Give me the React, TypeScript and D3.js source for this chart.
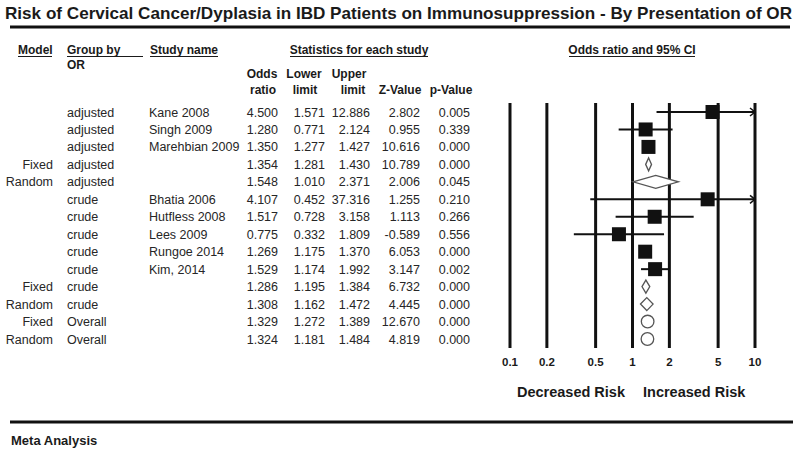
import React from "react";
import * as d3 from "d3";

const models = ["", "", "", "Fixed", "Random", "", "", "", "", "", "Fixed", "Random", "Fixed", "Random"];
const groups = ["adjusted", "adjusted", "adjusted", "adjusted", "adjusted", "crude", "crude", "crude", "crude", "crude", "crude", "crude", "Overall", "Overall"];
const studies = ["Kane 2008", "Singh 2009", "Marehbian 2009", "", "", "Bhatia 2006", "Hutfless 2008", "Lees 2009", "Rungoe 2014", "Kim, 2014", "", "", "", ""];
const oddsRatio = [4.5, 1.28, 1.35, 1.354, 1.548, 4.107, 1.517, 0.775, 1.269, 1.529, 1.286, 1.308, 1.329, 1.324];
const lowerLimit = [1.571, 0.771, 1.277, 1.281, 1.01, 0.452, 0.728, 0.332, 1.175, 1.174, 1.195, 1.162, 1.272, 1.181];
const upperLimit = [12.886, 2.124, 1.427, 1.43, 2.371, 37.316, 3.158, 1.809, 1.37, 1.992, 1.384, 1.472, 1.389, 1.484];
const zValues = [2.802, 0.955, 10.616, 10.789, 2.006, 1.255, 1.113, -0.589, 6.053, 3.147, 6.732, 4.445, 12.67, 4.819];
const pValues = [0.005, 0.339, 0.0, 0.0, 0.045, 0.21, 0.266, 0.556, 0.0, 0.002, 0.0, 0.0, 0.0, 0.0];
const ticks = [0.1, 0.2, 0.5, 1, 2, 5, 10];

const W = 800;
const H = 453;
const FONT = "'Liberation Sans', Arial, sans-serif";

export default function App() {
  const x = d3.scaleLog().domain([0.1, 10]).range([510, 755]);
  const y = d3.scalePoint<number>().domain(d3.range(models.length)).range([112, 339]);
  const f3 = d3.format(".3f");
  const fmt = (v: number) => f3(v).replace("\u2212", "-");
  const clampX = (v: number) => x(Math.max(0.1, Math.min(10, v)));
  const txt = "#1a1a1a";
  const rowTxt = "#262626";

  const numCols = [
    { vals: oddsRatio, right: 278 },
    { vals: lowerLimit, right: 325 },
    { vals: upperLimit, right: 370 },
    { vals: zValues, right: 420 },
    { vals: pValues, right: 470 },
  ];

  return (
    <svg width={W} height={H} style={{ position: "absolute", left: 0, top: 0, background: "#fff" }} fontFamily={FONT}>
      <rect width={W} height={H} fill="#fff" />
      {/* Title */}
      <text x={5} y={19} fontSize={16.5} fontWeight="bold" fill={txt} textLength={787} lengthAdjust="spacingAndGlyphs">
        Risk of Cervical Cancer/Dyplasia in IBD Patients on Immunosuppression - By Presentation of OR
      </text>
      <line x1={10} x2={790} y1={27} y2={27} stroke="#111" strokeWidth={3} />

      {/* Headers */}
      <g fontSize={12} fontWeight="bold" fill={txt}>
        <text x={18} y={54}>Model</text>
        <line x1={18} x2={52} y1={56.5} y2={56.5} stroke={txt} strokeWidth={1} />
        <text x={67} y={54}>Group by</text>
        <line x1={67} x2={143} y1={56.5} y2={56.5} stroke={txt} strokeWidth={1} />
        <text x={67} y={69}>OR</text>
        <text x={150} y={54}>Study name</text>
        <line x1={150} x2={218} y1={56.5} y2={56.5} stroke={txt} strokeWidth={1} />
        <text x={359} y={54} textAnchor="middle">Statistics for each study</text>
        <line x1={290} x2={428} y1={56.5} y2={56.5} stroke={txt} strokeWidth={1} />
        <text x={632} y={54} textAnchor="middle">Odds ratio and 95% CI</text>
        <line x1={569} x2={695} y1={56.5} y2={56.5} stroke={txt} strokeWidth={1} />
        <text x={262} y={78} textAnchor="middle">Odds</text>
        <text x={263} y={94} textAnchor="middle">ratio</text>
        <text x={304} y={78} textAnchor="middle">Lower</text>
        <text x={305} y={94} textAnchor="middle">limit</text>
        <text x={349} y={78} textAnchor="middle">Upper</text>
        <text x={353} y={94} textAnchor="middle">limit</text>
        <text x={400} y={94} textAnchor="middle">Z-Value</text>
        <text x={451} y={94} textAnchor="middle">p-Value</text>
      </g>

      {/* Table rows */}
      <g fontSize={12.5} fill={rowTxt}>
        {models.map((m, i) => (
          <g key={i} transform={`translate(0,${(y(i) as number) + 4.5})`}>
            <text x={53} textAnchor="end">{m}</text>
            <text x={67}>{groups[i]}</text>
            <text x={149}>{studies[i]}</text>
            {numCols.map((c, j) => (
              <text key={j} x={c.right} textAnchor="end">{fmt(c.vals[i])}</text>
            ))}
          </g>
        ))}
      </g>

      {/* Forest plot grid lines */}
      {ticks.map((t) => (
        <g key={t}>
          <line x1={x(t)} x2={x(t)} y1={103} y2={348} stroke="#111" strokeWidth={3} />
          <text x={x(t)} y={366} textAnchor="middle" fontSize={11.5} fontWeight="bold" fill={txt}>
            {d3.format("~g")(t)}
          </text>
        </g>
      ))}

      {/* Marks */}
      {models.map((m, i) => {
        const cy = y(i) as number;
        const cx = x(oddsRatio[i]);
        if (m === "") {
          const lo = clampX(lowerLimit[i]);
          const hi = clampX(upperLimit[i]);
          const arrowR = upperLimit[i] > 10;
          const arrowL = lowerLimit[i] < 0.1;
          return (
            <g key={i}>
              <line x1={lo} x2={hi} y1={cy} y2={cy} stroke="#111" strokeWidth={2} />
              {arrowR && (
                <path d={`M${hi - 5},${cy - 4} L${hi},${cy} L${hi - 5},${cy + 4}`} fill="none" stroke="#111" strokeWidth={1.5} />
              )}
              {arrowL && (
                <path d={`M${lo + 5},${cy - 4} L${lo},${cy} L${lo + 5},${cy + 4}`} fill="none" stroke="#111" strokeWidth={1.5} />
              )}
              <rect x={cx - 7} y={cy - 7} width={14} height={14} fill="#111" />
            </g>
          );
        }
        if (groups[i] === "Overall") {
          return <circle key={i} cx={cx} cy={cy} r={6.3} fill="#fff" stroke="#555" strokeWidth={1.3} />;
        }
        const lo = x(lowerLimit[i]);
        const hi = x(upperLimit[i]);
        return (
          <path
            key={i}
            d={`M${lo},${cy} L${cx},${cy - 6.5} L${hi},${cy} L${cx},${cy + 6.5} Z`}
            fill="#fff"
            stroke="#555"
            strokeWidth={1.3}
          />
        );
      })}

      <g fontSize={14.5} fontWeight="bold" fill={txt}>
        <text x={625} y={397} textAnchor="end">Decreased Risk</text>
        <text x={643} y={397}>Increased Risk</text>
      </g>

      <line x1={10} x2={793} y1={422} y2={422} stroke="#111" strokeWidth={3} />
      <text x={11} y={445} fontSize={13} fontWeight="bold" fill={txt}>Meta Analysis</text>
    </svg>
  );
}
